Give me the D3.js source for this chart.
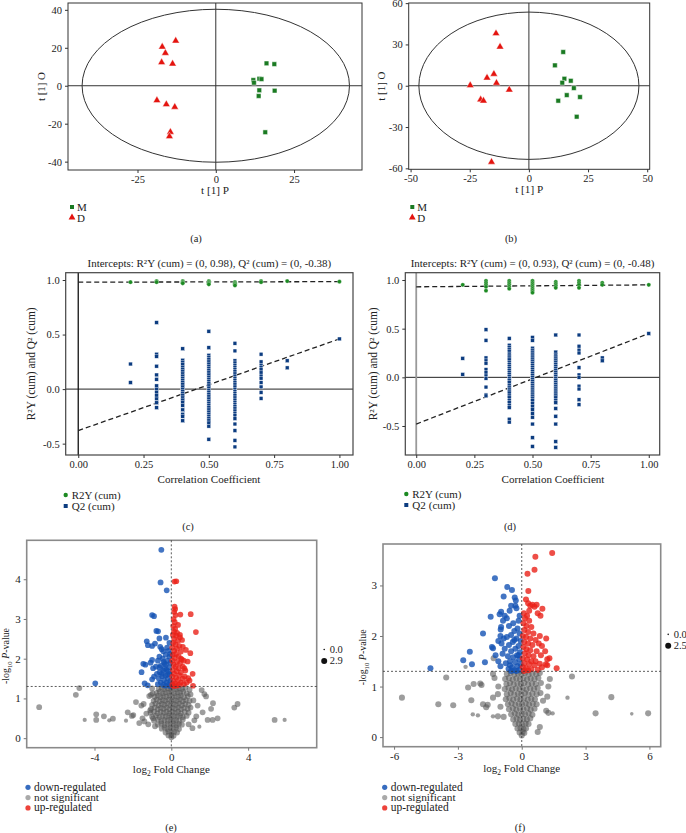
<!DOCTYPE html>
<html><head><meta charset="utf-8">
<script src="https://cdn.jsdelivr.net/npm/d3@7"></script>
<style>
body{margin:0;background:#fff}
svg text{font-family:"Liberation Serif","Times New Roman",serif;fill:#222}
</style>
</head><body>
<svg id="c" width="686" height="833" font-family="'Liberation Serif','Times New Roman',serif"></svg>
<script>
// ---------------- DATA ----------------
// (a) OPLS-DA scores
const scoreA_M = [[16.2,11.8],[18.7,11.4],[12.0,3.0],[12.2,1.6],[13.9,3.7],[14.6,3.5],[13.9,-2.4],[18.8,-2.6],[13.7,-5.4],[15.8,-24.5]];
const scoreA_D = [[-12.8,23.7],[-17.1,20.5],[-16.1,17.2],[-17.3,12.3],[-13.8,11.6],[-18.8,-7.7],[-15.8,-9.8],[-13.1,-11.2],[-14.5,-24.4],[-14.8,-26.7]];
const ellipseA = [42.7, 40.3];
const ticksAx = [-25,0,25], ticksAy = [-40,-20,0,20,40];
// (b)
const scoreB_M = [[14.5,24.5],[11.0,14.8],[15.0,5.1],[17.7,3.6],[14.1,2.2],[19.0,-1.7],[16.0,-6.8],[21.6,-8.2],[12.4,-10.9],[20.2,-22.5]];
const scoreB_D = [[-13.9,38.0],[-12.2,28.3],[-14.8,8.5],[-17.7,5.8],[-13.7,2.0],[-24.8,0.3],[-8.3,-2.9],[-20.4,-10.1],[-19.2,-10.9],[-15.8,-55.4]];
const ellipseB = [46.5, 53.5];
const ticksBx = [-50,-25,0,25,50], ticksBy = [-60,-30,0,30,60];
const groupLabels = ["M","D"];

// (c) permutation test
const r2C = [[0.2,[0.98]],[0.3,[0.99,0.98]],[0.4,[0.99,0.98,0.97]],[0.5,[0.99,0.98,0.97,0.96]],[0.6,[0.98,0.97,0.96,0.95]],[0.7,[0.99,0.98]],[0.8,[0.99]],[1.0,[0.985]]];
const q2C = [
 [0.2,[0.23,0.06]],
 [0.3,[0.61,0.32,0.30,0.21,0.13,0.09,0.03,0.0,-0.03,-0.06,-0.09,-0.125,-0.17]],
 [0.4,[0.37,0.265,0.245,0.225,0.2,0.18,0.165,0.14,0.12,0.1,0.08,0.06,0.045,0.02,0.0,-0.02,-0.04,-0.055,-0.08,-0.1,-0.12,-0.15,-0.19,-0.23,-0.25,-0.29]],
 [0.5,[0.53,0.38,0.31,0.29,0.27,0.25,0.23,0.21,0.19,0.17,0.15,0.13,0.11,0.09,0.07,0.05,0.03,0.01,-0.01,-0.03,-0.05,-0.07,-0.09,-0.11,-0.13,-0.15,-0.17,-0.19,-0.21,-0.23,-0.25,-0.27,-0.29,-0.31,-0.34,-0.46]],
 [0.6,[0.42,0.35,0.26,0.24,0.22,0.2,0.18,0.16,0.14,0.12,0.1,0.08,0.06,0.04,0.02,0.0,-0.02,-0.04,-0.06,-0.08,-0.1,-0.12,-0.14,-0.16,-0.18,-0.2,-0.22,-0.24,-0.27,-0.32,-0.38,-0.47,-0.53]],
 [0.7,[0.32,0.25,0.22,0.2,0.18,0.15,0.12,0.1,0.06,0.02,-0.03,-0.085]],
 [0.8,[0.26,0.195]],
 [1.0,[0.46]]
];
const interceptC = {r2:[0.98,0.985], q2:[-0.38,0.46]};
// (d)
const r2D = [[0.2,[0.95]],[0.3,[0.99,0.97,0.95,0.93,0.89]],[0.4,[0.99,0.97,0.95,0.93,0.91]],[0.5,[0.99,0.97,0.95,0.93,0.91,0.89,0.87]],[0.6,[0.98,0.96,0.94,0.92]],[0.7,[0.99,0.97,0.95,0.92]],[0.8,[0.97,0.95]],[1.0,[0.95]]];
const q2D = [
 [0.2,[0.195,0.03]],
 [0.3,[0.49,0.38,0.20,0.17,0.145,0.08,0.05,0.015,-0.01,-0.10,-0.18,-0.19]],
 [0.4,[0.40,0.33,0.31,0.29,0.27,0.24,0.22,0.2,0.18,0.15,0.13,0.11,0.09,0.07,0.05,0.03,0.01,-0.01,-0.03,-0.05,-0.08,-0.1,-0.12,-0.14,-0.16,-0.19,-0.21,-0.24,-0.26,-0.29,-0.31,-0.43,-0.46]],
 [0.5,[0.41,0.38,0.30,0.28,0.26,0.24,0.22,0.2,0.18,0.16,0.14,0.12,0.1,0.08,0.06,0.04,0.02,0.0,-0.02,-0.04,-0.06,-0.08,-0.1,-0.12,-0.14,-0.16,-0.18,-0.2,-0.22,-0.24,-0.27,-0.3,-0.33,-0.37,-0.41,-0.48,-0.62,-0.71]],
 [0.6,[0.435,0.26,0.23,0.21,0.19,0.17,0.15,0.13,0.11,0.09,0.07,0.05,0.03,0.01,-0.01,-0.03,-0.05,-0.07,-0.09,-0.11,-0.13,-0.15,-0.17,-0.19,-0.21,-0.24,-0.26,-0.32,-0.40,-0.48,-0.66,-0.72]],
 [0.7,[0.435,0.32,0.28,0.25,0.10,0.025,0.0,-0.09,-0.12,-0.23,-0.28]],
 [0.8,[0.20,0.17]],
 [1.0,[0.45]]
];
const interceptD = {r2:[0.93,0.95], q2:[-0.48,0.45]};
const permTicksX = [0,0.25,0.5,0.75,1.0], permTickLabelsX = ["0.00","0.25","0.50","0.75","1.00"];
const permTicksY = [-0.5,0,0.5,1.0], permTickLabelsY = ["-0.5","0.0","0.5","1.0"];
const permLegend = ["R2Y (cum)","Q2 (cum)"];

// (e) volcano: [log2FC, -log10 p, size]
const downE = [[-0.52,4.74,2.7],[-0.56,3.92,2.7],[-0.24,3.72],[-1.0,3.10],[-0.9,3.07],[-0.78,2.70],[-0.69,2.69],[-0.28,2.53],[-0.62,2.51],[-1.28,2.44],[-1.22,2.34],[-1.0,2.32],[-0.85,2.38],[-0.58,2.3],[-0.5,2.24],[-0.42,2.19],[-1.46,1.87],[-1.35,1.85],[-1.55,1.66],[-1.0,1.97],[-1.08,1.9],[-0.95,1.76],[-0.8,1.8],[-3.96,1.38],[-1.39,1.38],[-1.23,1.33],[-0.9,1.55],[-1.0,1.48],[-0.75,1.62],[-0.62,2.05],[-0.7,1.95],
 [-0.1,2.4],[-0.15,2.2],[-0.3,2.1],[-0.45,2.0],[-0.2,1.95],[-0.05,1.9],[-0.35,1.88],[-0.55,1.82],[-0.12,1.78],[-0.25,1.72],[-0.42,1.7],[-0.6,1.66],[-0.08,1.62],[-0.3,1.58],[-0.48,1.56],[-0.18,1.5],[-0.65,1.5],[-0.38,1.46],[-0.05,1.44],[-0.25,1.4],[-0.55,1.4],[-0.12,1.36],[-0.42,1.34],[-0.7,1.36],[-0.3,1.32],[-0.06,1.31],[-0.2,1.6],[-0.35,1.75],[-0.1,2.05],[-0.22,2.28],[-0.5,1.62],[-0.15,1.68],[-0.05,2.12],[-0.4,1.92],[-0.62,1.78],[-0.28,1.85]];
const upE = [[0.17,3.94],[0.26,3.95],[0.17,3.31],[0.2,3.25],[0.15,3.18],[0.22,3.1],[0.47,3.11],[1.01,3.12],[1.28,2.67],[0.45,2.54],[0.56,2.47],[0.76,2.22],[0.99,2.14],[0.85,1.93],[0.68,1.76],[0.73,1.70],[1.11,1.62],[1.13,1.32],[0.88,1.51],[0.35,2.85],[0.3,2.65],[0.6,2.3],[0.5,2.0],[0.95,1.45],[0.8,1.4],
 [0.12,3.0],[0.18,2.92],[0.1,2.82],[0.2,2.75],[0.14,2.68],[0.08,2.6],[0.25,2.58],[0.15,2.5],[0.35,2.45],[0.1,2.4],[0.22,2.36],[0.42,2.32],[0.05,2.28],[0.3,2.25],[0.15,2.2],[0.5,2.18],[0.25,2.12],[0.08,2.1],[0.38,2.06],[0.18,2.02],[0.55,1.98],[0.05,1.95],[0.3,1.92],[0.45,1.88],[0.12,1.85],[0.22,1.8],[0.6,1.8],[0.38,1.76],[0.08,1.72],[0.28,1.68],[0.5,1.65],[0.15,1.62],[0.42,1.58],[0.05,1.55],[0.25,1.52],[0.6,1.5],[0.35,1.46],[0.1,1.44],[0.5,1.4],[0.2,1.38],[0.05,1.34],[0.4,1.34],[0.28,1.32],[0.65,1.36],[0.12,1.31],[0.7,1.55],[0.65,1.95],[0.45,2.6]];
const nsE = [[-6.88,0.78],[-4.97,1.09],[-4.79,1.26],[-4.51,0.46,1],[-3.91,0.60],[-3.91,0.46],[-3.51,0.55],[-3.23,0.45,1],[-3.04,0.49],[-2.27,0.65],[-1.84,0.91],[-1.98,0.58],[-2.05,0.56],[-1.56,0.82],[-1.44,0.86],[-1.15,1.06],[-0.97,1.13],[-2.36,0.44,1],[-1.67,0.38],[-1.5,0.5],[-1.4,0.42],[-1.3,0.62],[-1.2,0.35],[1.37,0.82],[1.63,0.65],[1.72,1.11],[1.81,1.05],[1.58,1.21],[2.07,0.74],[2.17,0.88],[2.41,0.50],[2.15,0.46],[1.89,0.46],[3.28,0.77],[3.45,0.86],[5.38,0.46],[5.90,0.46,1],[1.46,0.29,1],[1.1,0.25],[1.2,0.45],[0.95,1.22],[1.0,1.1],[1.15,0.95],[1.3,0.55],[-1.1,0.7],[-1.06,1.09],[-0.95,0.5],[-0.85,0.3],[0.9,0.35],[-1.0,1.25],
 [-0.66,1.24],[-0.5,1.27],[-0.36,1.23],[-0.2,1.26],[-0.05,1.24],[0.1,1.27],[0.26,1.23],[0.4,1.26],[0.56,1.24],[0.72,1.27],
 [-0.76,1.14],[-0.6,1.17],[-0.44,1.13],[-0.3,1.16],[-0.14,1.14],[0.0,1.17],[0.16,1.13],[0.31,1.16],[0.46,1.14],[0.62,1.17],[0.8,1.13],
 [-0.86,1.04],[-0.7,1.07],[-0.56,1.03],[-0.41,1.06],[-0.25,1.04],[-0.1,1.07],[0.05,1.03],[0.2,1.06],[0.36,1.04],[0.5,1.07],[0.66,1.03],[0.86,1.06],
 [-0.92,0.94],[-0.76,0.97],[-0.6,0.93],[-0.45,0.96],[-0.3,0.94],[-0.15,0.97],[0.0,0.93],[0.15,0.96],[0.3,0.94],[0.45,0.97],[0.6,0.93],[0.76,0.96],[0.95,0.94],
 [-1.0,0.84],[-0.82,0.87],[-0.66,0.83],[-0.5,0.86],[-0.35,0.84],[-0.2,0.87],[-0.05,0.83],[0.1,0.86],[0.25,0.84],[0.4,0.87],[0.55,0.83],[0.72,0.86],[0.9,0.84],
 [-1.05,0.74],[-0.86,0.77],[-0.7,0.73],[-0.55,0.76],[-0.4,0.74],[-0.25,0.77],[-0.1,0.73],[0.05,0.76],[0.2,0.74],[0.35,0.77],[0.5,0.73],[0.66,0.76],[0.85,0.74],[1.0,0.77],
 [-1.08,0.64],[-0.9,0.67],[-0.72,0.63],[-0.56,0.66],[-0.4,0.64],[-0.25,0.67],[-0.1,0.63],[0.05,0.66],[0.2,0.64],[0.35,0.67],[0.5,0.63],[0.7,0.66],[0.9,0.64],
 [-1.0,0.54],[-0.8,0.57],[-0.62,0.53],[-0.46,0.56],[-0.3,0.54],[-0.15,0.57],[0.0,0.53],[0.15,0.56],[0.3,0.54],[0.45,0.57],[0.6,0.53],[0.8,0.56],
 [-0.9,0.44],[-0.7,0.47],[-0.52,0.43],[-0.36,0.46],[-0.2,0.44],[-0.05,0.47],[0.1,0.43],[0.25,0.46],[0.4,0.44],[0.6,0.47],
 [-0.7,0.34],[-0.52,0.37],[-0.36,0.33],[-0.2,0.36],[-0.05,0.34],[0.1,0.37],[0.25,0.33],[0.4,0.36],[0.55,0.34],
 [-0.5,0.24],[-0.35,0.27],[-0.2,0.23],[-0.05,0.26],[0.1,0.24],[0.25,0.27],[0.4,0.23],
 [-0.3,0.14],[-0.15,0.17],[0.0,0.13],[0.15,0.16],[0.3,0.14],
 [-0.15,0.07],[0.0,0.08],[0.12,0.06],[0.0,0.02]];
const ticksEx = [-4,0,4], ticksEy = [0,1,2,3,4];
const sizeLegendE = [0.0, 2.9];

// (f)
const downF = [[-1.26,3.14],[-0.68,2.97],[-0.46,2.91],[-0.85,2.78],[-0.33,2.76],[-0.28,2.7],[-0.3,2.6],[-0.25,2.55],[-0.5,2.6],[-0.57,2.5],[-1.46,2.38],[-1.04,2.43],[-0.97,2.48],[-0.8,2.4],[-0.7,2.35],[-0.88,2.3],[-0.97,2.18],[-0.99,2.13],[-1.82,2.05],[-1.0,2.0],[-0.85,1.95],[-1.1,1.9],[-0.95,1.85],[-1.40,1.78],[-1.35,1.76],[-1.23,1.62],[-2.44,1.69],[-2.75,1.52],[-2.34,1.44],[-1.73,1.48],[-4.29,1.36],[-1.1,1.5],[-1.0,1.4],[-0.9,1.65],
 [-0.15,2.3],[-0.4,2.25],[-0.6,2.2],[-0.2,2.15],[-0.35,2.1],[-0.1,2.05],[-0.5,2.02],[-0.7,1.98],[-0.25,1.95],[-0.05,1.9],[-0.42,1.88],[-0.6,1.82],[-0.15,1.8],[-0.3,1.75],[-0.8,1.75],[-0.5,1.7],[-0.08,1.68],[-0.22,1.62],[-0.65,1.6],[-0.4,1.58],[-0.12,1.54],[-0.55,1.5],[-0.3,1.48],[-0.75,1.46],[-0.05,1.44],[-0.2,1.4],[-0.45,1.38],[-0.62,1.35],[-0.1,1.33],[-0.35,1.32],[-0.25,1.31],[-0.5,1.31],[-0.15,1.62],[-0.35,1.92],[-0.1,2.4],[-0.55,1.42]];
const upF = [[1.43,3.64],[0.64,3.57],[0.60,3.31],[0.27,3.23],[0.31,2.89],[0.2,2.72],[0.3,2.65],[0.4,2.6],[0.5,2.62],[0.6,2.58],[0.7,2.62],[0.97,2.54],[0.88,2.40],[0.75,2.45],[0.85,2.0],[1.15,1.95],[0.95,1.8],[1.1,1.7],[0.9,1.62],[1.3,1.56],[1.2,1.54],[1.13,1.44],[1.2,1.42],[1.64,1.36],[0.85,1.45],[0.95,1.38],
 [0.1,2.45],[0.25,2.4],[0.15,2.35],[0.35,2.3],[0.08,2.25],[0.22,2.2],[0.45,2.18],[0.12,2.12],[0.3,2.08],[0.55,2.05],[0.05,2.0],[0.2,1.98],[0.4,1.95],[0.65,1.92],[0.12,1.88],[0.3,1.85],[0.5,1.82],[0.08,1.78],[0.22,1.74],[0.4,1.72],[0.7,1.7],[0.15,1.66],[0.32,1.62],[0.55,1.6],[0.05,1.56],[0.25,1.54],[0.45,1.5],[0.12,1.46],[0.35,1.44],[0.6,1.42],[0.05,1.38],[0.2,1.36],[0.45,1.34],[0.3,1.32],[0.1,1.31],[0.75,1.33],[0.65,1.5],[0.8,1.85],[0.35,2.5]];
const nsF = [[-5.63,0.78],[-3.92,0.65],[-3.22,0.63],[-3.55,1.18],[-2.64,1.39,1],[-2.52,0.98],[-2.26,1.05],[-1.95,1.06],[-1.89,1.03],[-2.37,0.73],[-1.82,0.65],[-1.67,0.59],[-1.6,0.64],[-2.30,0.45,1],[-2.06,0.43,1],[-1.35,0.41,1],[-1.12,0.41],[-1.35,0.78],[-1.12,0.85],[-1.28,1.17],[-1.35,1.25],[-1.32,1.56],[2.36,1.20],[2.15,0.78,1],[4.21,0.79],[3.47,0.47],[5.17,0.46,0.5],[5.94,0.47],[1.15,0.52],[1.25,0.48],[1.45,0.47,1],[1.0,0.72],[1.25,1.0],[1.32,1.15],[0.85,0.2],[0.75,0.1],[-0.85,0.4],[-1.0,0.6],[1.2,0.8],[-1.1,1.0],
 [-0.7,1.25],[-0.52,1.27],[-0.35,1.24],[-0.18,1.26],[-0.02,1.25],[0.15,1.27],[0.32,1.24],[0.5,1.26],[0.68,1.25],[0.85,1.27],
 [-0.78,1.15],[-0.6,1.17],[-0.42,1.14],[-0.25,1.16],[-0.08,1.15],[0.08,1.17],[0.25,1.14],[0.42,1.16],[0.6,1.15],[0.78,1.17],
 [-0.72,1.05],[-0.55,1.07],[-0.38,1.04],[-0.2,1.06],[-0.04,1.05],[0.12,1.07],[0.3,1.04],[0.48,1.06],[0.66,1.05],[0.9,1.07],
 [-0.8,0.95],[-0.62,0.97],[-0.45,0.94],[-0.28,0.96],[-0.1,0.95],[0.05,0.97],[0.22,0.94],[0.4,0.96],[0.58,0.95],[0.75,0.97],
 [-0.7,0.85],[-0.52,0.87],[-0.35,0.84],[-0.18,0.86],[-0.02,0.85],[0.15,0.87],[0.32,0.84],[0.5,0.86],[0.7,0.85],[0.88,0.87],
 [-0.75,0.75],[-0.58,0.77],[-0.4,0.74],[-0.22,0.76],[-0.06,0.75],[0.1,0.77],[0.28,0.74],[0.45,0.76],[0.62,0.75],
 [-0.65,0.65],[-0.48,0.67],[-0.3,0.64],[-0.14,0.66],[0.02,0.65],[0.18,0.67],[0.35,0.64],[0.52,0.66],[0.7,0.65],
 [-0.6,0.55],[-0.42,0.57],[-0.25,0.54],[-0.08,0.56],[0.08,0.55],[0.25,0.57],[0.42,0.54],[0.6,0.56],
 [-0.5,0.45],[-0.33,0.47],[-0.16,0.44],[0.0,0.46],[0.16,0.45],[0.32,0.47],[0.5,0.44],
 [-0.4,0.35],[-0.24,0.37],[-0.08,0.34],[0.08,0.36],[0.24,0.35],[0.4,0.37],
 [-0.3,0.26],[-0.14,0.27],[0.02,0.25],[0.18,0.27],[0.32,0.26],
 [-0.2,0.17],[-0.06,0.18],[0.08,0.16],[0.2,0.17],
 [-0.1,0.09],[0.04,0.1],[0.12,0.08],[0.0,0.03]];
const ticksFx = [-6,-3,0,3,6], ticksFy = [0,1,2,3];
const sizeLegendF = [0.0, 2.5];
const volcanoLegend = ["down-regulated","not significant","up-regulated"];
const pThreshold = 1.301;

// ---------------- DRAWING ----------------
const svg = d3.select('#c');
const FONT = "'Liberation Serif','Times New Roman',serif";
const FS = 10.5;

function scales(p){
  return {x:d3.scaleLinear().domain(p.xd).range([p.x0,p.x1]),
          y:d3.scaleLinear().domain(p.yd).range([p.y1,p.y0])};
}
function frame(p, stroke, w){
  svg.append('rect').attr('x',p.x0).attr('y',p.y0).attr('width',p.x1-p.x0).attr('height',p.y1-p.y0)
    .attr('fill','none').attr('stroke',stroke).attr('stroke-width',w);
}
// scale a text (and its tspans) so that its rendered width equals w
function fit(t, w){
  const L = t.node().getComputedTextLength();
  if(!(L>0)) return t;
  const k = w/L;
  t.attr('font-size', +t.attr('font-size')*k);
  t.selectAll('tspan').each(function(){
    const s = d3.select(this);
    if(s.attr('font-size')) s.attr('font-size', +s.attr('font-size')*k);
    if(s.attr('dy')) s.attr('dy', +s.attr('dy')*k);
  });
  return t;
}
function axes(p,s,xt,xl,yt,yl,col,tl,fs){
  const fx = xl ? (d,i)=>xl[i] : d=>String(d).replace('−','-');
  const fy = yl ? (d,i)=>yl[i] : d=>String(d).replace('−','-');
  const gx = svg.append('g').attr('transform',`translate(0,${p.y1})`)
    .call(d3.axisBottom(s.x).tickValues(xt).tickFormat(fx).tickSize(tl).tickPadding(2.5));
  const gy = svg.append('g').attr('transform',`translate(${p.x0},0)`)
    .call(d3.axisLeft(s.y).tickValues(yt).tickFormat(fy).tickSize(tl).tickPadding(3));
  [gx,gy].forEach(g=>{
    g.select('.domain').remove();
    g.attr('font-family',FONT).attr('font-size',fs||FS);
    g.selectAll('line').attr('stroke',col);
    g.selectAll('text').attr('fill','#222');
  });
}
function text(x,y,str,opt={}){
  const t = svg.append('text').attr('x',x).attr('y',y).attr('font-size',opt.fs||FS)
    .attr('font-family',FONT).attr('text-anchor',opt.anchor||'middle').text(str);
  if(opt.rot) t.attr('transform',`rotate(-90,${x},${y})`);
  if(opt.w) fit(t,opt.w);
  return t;
}

// ---- score plots
function scorePlot(p, M, D, ell, xt, yt, leg, cap){
  const s = scales(p);
  frame(p,'#333',1);
  svg.append('line').attr('x1',p.x0).attr('x2',p.x1).attr('y1',s.y(0)).attr('y2',s.y(0)).attr('stroke','#333');
  svg.append('line').attr('x1',s.x(0)).attr('x2',s.x(0)).attr('y1',p.y0).attr('y2',p.y1).attr('stroke','#333');
  svg.append('ellipse').attr('cx',s.x(0)).attr('cy',s.y(0))
    .attr('rx',s.x(ell[0])-s.x(0)).attr('ry',s.y(0)-s.y(ell[1]))
    .attr('fill','none').attr('stroke','#333').attr('stroke-width',1);
  axes(p,s,xt,null,yt,null,'#333',3,10.5);
  const sq = d3.symbol().type(d3.symbolSquare).size(22);
  const tr = d3.symbol().type(d3.symbolTriangle).size(24);
  svg.append('g').selectAll('path').data(M).join('path').attr('d',sq)
    .attr('transform',d=>`translate(${s.x(d[0])},${s.y(d[1])})`)
    .attr('fill','#1a7a22').attr('stroke','#fff').attr('stroke-width',0.5);
  svg.append('g').selectAll('path').data(D).join('path').attr('d',tr)
    .attr('transform',d=>`translate(${s.x(d[0])},${s.y(d[1])})`)
    .attr('fill','#e4140f').attr('stroke','#fff').attr('stroke-width',0.4);
  text((p.x0+p.x1)/2, p.y1+23.5, 't [1] P', {w:28});
  text(p.ylx, (p.y0+p.y1)/2, 't [1] O',{rot:true, w:29});
  svg.append('path').attr('d',d3.symbol().type(d3.symbolSquare).size(16)).attr('transform',`translate(${leg[0]},${leg[1]})`).attr('fill','#1a7a22');
  svg.append('path').attr('d',d3.symbol().type(d3.symbolTriangle).size(20)).attr('transform',`translate(${leg[0]},${leg[1]+10.5})`).attr('fill','#e4140f');
  text(leg[0]+5,leg[1]+4,groupLabels[0],{anchor:'start',fs:11});
  text(leg[0]+5,leg[1]+14.5,groupLabels[1],{anchor:'start',fs:11});
  text(cap[0],cap[1],cap[2]);
}
scorePlot({x0:68,x1:362,y0:3,y1:170,xd:[-47.2,46.7],yd:[-44.4,43.6],ylx:45},
  scoreA_M, scoreA_D, ellipseA, ticksAx, ticksAy, [72,207], [196,241.5,'(a)']);
scorePlot({x0:408.7,x1:649.7,y0:3,y1:169.3,xd:[-50.8,51.05],yd:[-60.7,60.1],ylx:385},
  scoreB_M, scoreB_D, ellipseB, ticksBx, ticksBy, [412.3,207], [511,241.5,'(b)']);

// ---- permutation plots
function permPlot(p, r2, q2, ic, vcol, titleTxt, ylx, xlx, leg, cap){
  const s = scales(p);
  svg.append('line').attr('x1',p.x0).attr('x2',p.x1).attr('y1',s.y(0)).attr('y2',s.y(0)).attr('stroke','#222');
  svg.append('line').attr('x1',s.x(0)).attr('x2',s.x(0)).attr('y1',p.y0).attr('y2',p.y1).attr('stroke',vcol.c).attr('stroke-width',vcol.w);
  frame(p,'#444',1.2);
  axes(p,s,permTicksX,permTickLabelsX,permTicksY,permTickLabelsY,'#333',3,10.5);
  const line = d3.line().x(d=>s.x(d[0])).y(d=>s.y(d[1]));
  svg.append('path').attr('d',line([[0,ic.r2[0]],[1,ic.r2[1]]])).attr('stroke','#222').attr('stroke-width',1.3).attr('stroke-dasharray','5,3').attr('fill','none');
  svg.append('path').attr('d',line([[0,ic.q2[0]],[1,ic.q2[1]]])).attr('stroke','#222').attr('stroke-width',1.3).attr('stroke-dasharray','5,3').attr('fill','none');
  const r2pts = r2.flatMap(([x,vs])=>vs.map(v=>[x,v]));
  const q2pts = q2.flatMap(([x,vs])=>vs.map(v=>[x,v]));
  svg.append('g').selectAll('rect').data(q2pts).join('rect')
    .attr('x',d=>s.x(d[0])-1.9).attr('y',d=>s.y(d[1])-1.9).attr('width',3.8).attr('height',3.8)
    .attr('fill','#0c3c80').attr('stroke','#fff').attr('stroke-width',0.4);
  svg.append('g').selectAll('circle').data(r2pts).join('circle')
    .attr('cx',d=>s.x(d[0])).attr('cy',d=>s.y(d[1])).attr('r',2.1)
    .attr('fill','#1c8a22').attr('stroke','#fff').attr('stroke-width',0.3);
  text((p.x0+p.x1)/2, p.y0-6, titleTxt, {w:244});
  text(xlx, p.y1+27.5, 'Correlation Coefficient', {w:103});
  text(ylx, (p.y0+p.y1)/2, 'R²Y (cum) and Q² (cum)', {rot:true, w:113});
  svg.append('circle').attr('cx',leg[0]).attr('cy',leg[1]).attr('r',2.2).attr('fill','#1c8a22');
  svg.append('rect').attr('x',leg[0]-2).attr('y',leg[1]+9).attr('width',4).attr('height',4).attr('fill','#0c3c80');
  text(leg[0]+6,leg[1]+3.5,permLegend[0],{anchor:'start',w:49});
  text(leg[0]+6,leg[1]+14.5,permLegend[1],{anchor:'start',w:43});
  text(cap[0],cap[1],cap[2]);
}
permPlot({x0:65.7,x1:353,y0:272.7,y1:455,xd:[-0.048,1.052],yd:[-0.604,1.067]},
  r2C,q2C,interceptC,{c:'#111',w:1.3},'Intercepts: R²Y (cum) = (0, 0.98), Q² (cum) = (0, -0.38)',35,209,[65.7,495],[188,530,'(c)']);
permPlot({x0:405.3,x1:659.7,y0:272.7,y1:455,xd:[-0.047,1.047],yd:[-0.798,1.075]},
  r2D,q2D,interceptD,{c:'#999',w:1.8},'Intercepts: R²Y (cum) = (0, 0.93), Q² (cum) = (0, -0.48)',377,553,[406.3,494],[510,530,'(d)']);

// ---- volcano plots
const COL = {down:'#1452b4', ns:'#575757', up:'#ea2219'};
function volcano(p, down, ns, up, xt, yt, sizeLeg, ylx, leg, cap){
  const s = scales(p);
  const r = d3.scaleSqrt().domain([0,sizeLeg[1]]).range([0.8,3.0]);
  frame(p,'#8a8a8a',1.6);
  axes(p,s,xt,null,yt,null,'#777',3,11);
  const draw = (arr,col,op,def)=>svg.append('g').selectAll('circle').data(arr).join('circle')
    .attr('cx',d=>s.x(d[0])).attr('cy',d=>s.y(d[1])).attr('r',d=>r(d[2]!=null?d[2]:def))
    .attr('fill',col).attr('fill-opacity',op);
  draw(ns,COL.ns,0.58,2.6);
  draw(down,COL.down,0.8,2.5);
  draw(up,COL.up,0.8,2.5);
  svg.append('line').attr('x1',p.x0).attr('x2',p.x1).attr('y1',s.y(pThreshold)).attr('y2',s.y(pThreshold))
    .attr('stroke','#333').attr('stroke-width',0.8).attr('stroke-dasharray','2,2');
  svg.append('line').attr('x1',s.x(0)).attr('x2',s.x(0)).attr('y1',p.y0).attr('y2',p.y1)
    .attr('stroke','#333').attr('stroke-width',0.8).attr('stroke-dasharray','2,2');
  // x label
  const xl = svg.append('text').attr('x',s.x(0)).attr('y',p.y1+25).attr('text-anchor','middle').attr('font-size',11).attr('font-family',FONT);
  xl.append('tspan').text('log');
  xl.append('tspan').attr('dy',3).attr('font-size',7.5).text('2');
  xl.append('tspan').attr('dy',-3).text(' Fold Change');
  fit(xl,77);
  // y label
  const cy = (p.y0+p.y1)/2 + 12;
  const yl = svg.append('text').attr('x',ylx).attr('y',cy).attr('text-anchor','middle').attr('font-size',11).attr('font-family',FONT)
    .attr('transform',`rotate(-90,${ylx},${cy})`);
  yl.append('tspan').text('-log');
  yl.append('tspan').attr('dy',3).attr('font-size',7.5).text('10');
  yl.append('tspan').attr('dy',-3).text(' ');
  yl.append('tspan').attr('font-style','italic').text('P');
  yl.append('tspan').text('-value');
  fit(yl,56);
  // size legend
  const sx = p.x1 + 7.5, sy = s.y(pThreshold) - 37;
  sizeLeg.forEach((v,i)=>{
    svg.append('circle').attr('cx',sx).attr('cy',sy+i*11.5).attr('r',r(v)).attr('fill','#111');
    text(sx+5.5, sy+i*11.5+3.5, v.toFixed(1), {anchor:'start',fs:10.5});
  });
  // colour legend
  const lw = [72,65,58];
  [COL.down,'#a9a9a9',COL.up].forEach((c,i)=>{
    svg.append('circle').attr('cx',leg[0]).attr('cy',leg[1]+i*10.3).attr('r',2.6).attr('fill',c).attr('fill-opacity',i==1?1:0.85);
    text(leg[0]+6, leg[1]+i*10.3+3.3, volcanoLegend[i], {anchor:'start',w:lw[i]});
  });
  text(cap[0],cap[1],cap[2]);
}
volcano({x0:26.7,x1:316.7,y0:540.3,y1:747.7,xd:[-7.53,7.57],yd:[-0.24,4.98]},
  downE,nsE,upE,ticksEx,ticksEy,sizeLegendE,9,[28,787.3],[171,831,'(e)']);
volcano({x0:383,x1:660.7,y0:544,y1:746.7,xd:[-6.52,6.53],yd:[-0.19,3.82]},
  downF,nsF,upF,ticksFx,ticksFy,sizeLegendF,366,[384.7,787.3],[520,831,'(f)']);
</script>
</body></html>
